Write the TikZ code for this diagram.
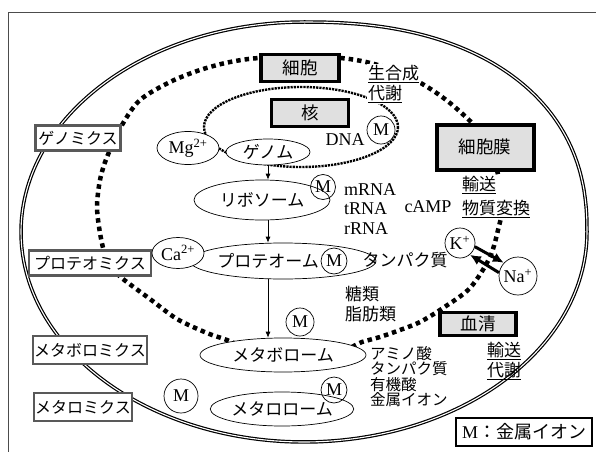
\documentclass[tikz,border=0pt]{standalone}
\usepackage{fontspec}
\setmainfont{Liberation Serif}
\newfontfamily\jp{Noto Sans CJK JP}
\usepackage{tikz}
\usetikzlibrary{arrows.meta,shapes.geometric}

\begin{document}
\begin{tikzpicture}[x=1pt, y=-1pt,
        omics/.style={draw=black!65, line width=2.6pt, fill=white, inner sep=1pt, minimum height=25pt, font=\jp\fontsize{16}{16}\selectfont},
        place/.style={draw, line width=3.5pt, fill=black!12, minimum height=27pt, font=\jp\fontsize{17.5}{17.5}\selectfont},
        pool/.style={draw, ellipse, fill=white, inner sep=0pt, line width=0.7pt, font=\jp\fontsize{17}{17}\selectfont},
        ion/.style={draw, ellipse, fill=white, inner sep=0pt, line width=0.7pt, font=\fontsize{18}{18}\selectfont},
        metal/.style={draw, circle, inner sep=0pt, line width=0.7pt, minimum size=26pt, font=\fontsize{18}{18}\selectfont},
        note/.style={align=left, inner sep=1pt, font=\jp\fontsize{17}{20}\selectfont},
        term/.style={align=left, inner sep=1pt, font=\fontsize{18}{19.5}\selectfont},
        cellwall/.style={draw, double, line width=1.2pt, double distance=1.1pt},
        membrane/.style={line width=4.5pt, dash pattern=on 4.5pt off 4pt},
        nucmembrane/.style={line width=2.4pt, dash pattern=on 2.2pt off 1pt},
        flow/.style={-{Latex[length=6pt, width=5pt]}, line width=0.7pt},
        pump/.style={-{Latex[length=11pt, width=10pt]}, line width=3pt}
    ]
        \useasboundingbox (0,0) rectangle (596,452);
        \draw[black!70, line width=0.8pt] (596,12) -- (8,12) -- (8,452);

        \draw[cellwall] plot[domain=0:90, samples=40, smooth, variable=\t] ({304+283*pow(max(cos(\t),0.0001),0.87)}, {232-210*pow(max(sin(\t),0.0001),0.87)})
            -- plot[domain=90:360, samples=110, smooth, variable=\t] ({304+283*cos(\t)}, {232-210*sin(\t)}) -- cycle;

        \draw[membrane] plot[smooth] coordinates {(352,347) (362,342) (380,337) (400,330) (420,322) (443,308) (470,288) (490,257) (499,226) (502,210) (500,185) (494,160) (481,133) (469,120) (450,103) (429,88) (400,72) (366,62) (340,58) (310,58)};
        \draw[membrane] plot[smooth] coordinates {(300,59) (260,58) (230,62) (200,70) (170,82) (140,100) (122,125) (107,157) (100,180) (97,207) (100,233) (105,255) (112,268) (123,279) (150,299) (177,319) (207,333) (227,340) (240,346)};
        \draw[nucmembrane] (301,127) ellipse [x radius=97, y radius=40];

        \node[place, minimum width=78pt] (cell) at (300,68) {細胞};
        \node[place, minimum width=77pt] (nucleus) at (310,113) {核};
        \node[place, line width=4pt, minimum width=97pt, minimum height=45pt] (plasma) at (485,147) {細胞膜};
        \node[place, minimum width=76pt, minimum height=23pt] (serum) at (478,324) {血清};

        \node[omics, minimum width=85pt] (genomics) at (78,138) {ゲノミクス};
        \node[omics, minimum width=122pt] (proteomics) at (90,263) {プロテオミクス};
        \node[omics, minimum width=114pt, minimum height=28pt] (metabolomics) at (90,350) {メタボロミクス};
        \node[omics, minimum width=98pt, minimum height=28pt] (metallomics) at (83,407) {メタロミクス};

        \node[pool, minimum width=84pt, minimum height=26pt] (genome) at (268,152) {ゲノム};
        \node[pool, minimum width=136pt, minimum height=40pt] (ribosome) at (262,200) {リボソーム};
        \node[pool, minimum width=165pt, minimum height=36pt] (proteome) at (283,261) {プロテオーム\hspace*{30pt}};
        \node[pool, minimum width=166pt, minimum height=34pt] (metabolome) at (283,355) {メタボローム};
        \node[pool, minimum width=134pt, minimum height=34pt] (metallome) at (282,409) {メタロローム};

        \node[ion, minimum width=62pt, minimum height=33pt] (mg) at (188,148) {Mg\textsuperscript{2+}};
        \node[ion, minimum width=52pt, minimum height=31pt] (ca) at (178,253) {Ca\textsuperscript{2+}};
        \node[ion, circle, minimum size=30pt] (k) at (460,243) {K\textsuperscript{+}};
        \node[ion, circle, minimum size=38pt] (na) at (518,276) {Na\textsuperscript{+}};

        \node[metal, minimum size=28pt] (mdna) at (381,130) {M};
        \node[metal, minimum size=25pt] (mribo) at (323,187) {M};
        \node[metal] (mprot) at (334,261) {M};
        \node[metal, minimum size=28pt] (mmeta) at (300,322) {M};
        \node[metal] (mmetal) at (334,390) {M};
        \node[metal, minimum size=34pt] (mfree) at (181,396) {M};

        \node[term] (dna) at (345,140) {DNA};
        \node[term, anchor=west] (rna) at (343,209) {mRNA\\tRNA\\rRNA};
        \node[term] (camp) at (428,207) {cAMP};
        \node[note, anchor=north west, fill=white] (synthesis) at (367,64) {\underline{生合成}\\\underline{代謝}};
        \node[note, anchor=north west, fill=white, font=\jp\fontsize{17}{24}\selectfont] (exchange) at (461,175) {\underline{輸送}\\\underline{物質変換}};
        \node[note] (protein) at (405,260) {タンパク質};
        \node[note, anchor=north west] (lipid) at (344,285) {糖類\\脂肪類};
        \node[note, anchor=north west, font=\jp\fontsize{15.5}{15.5}\selectfont] (solutes) at (369,345) {アミノ酸\\タンパク質\\有機酸\\金属イオン};
        \node[note, anchor=north west] (uptake) at (486,341) {\underline{輸送}\\\underline{代謝}};
        \node[draw, line width=1.3pt, minimum width=136pt, minimum height=28pt, font=\fontsize{18}{18}\selectfont] (legend) at (524,432) {M\jp ：金属イオン};

        \draw[flow] (genome.south) -- (genome.south |- ribosome.north);
        \draw[flow] (ribosome.south -| genome.south) -- (proteome.north -| genome.south);
        \draw[flow] (proteome.south -| genome.south) -- (metabolome.north -| genome.south);
        \draw[pump] (k.-14) -- (na.137);
        \draw[pump] (na.170) -- (k.-50);
    \end{tikzpicture}
\end{document}
